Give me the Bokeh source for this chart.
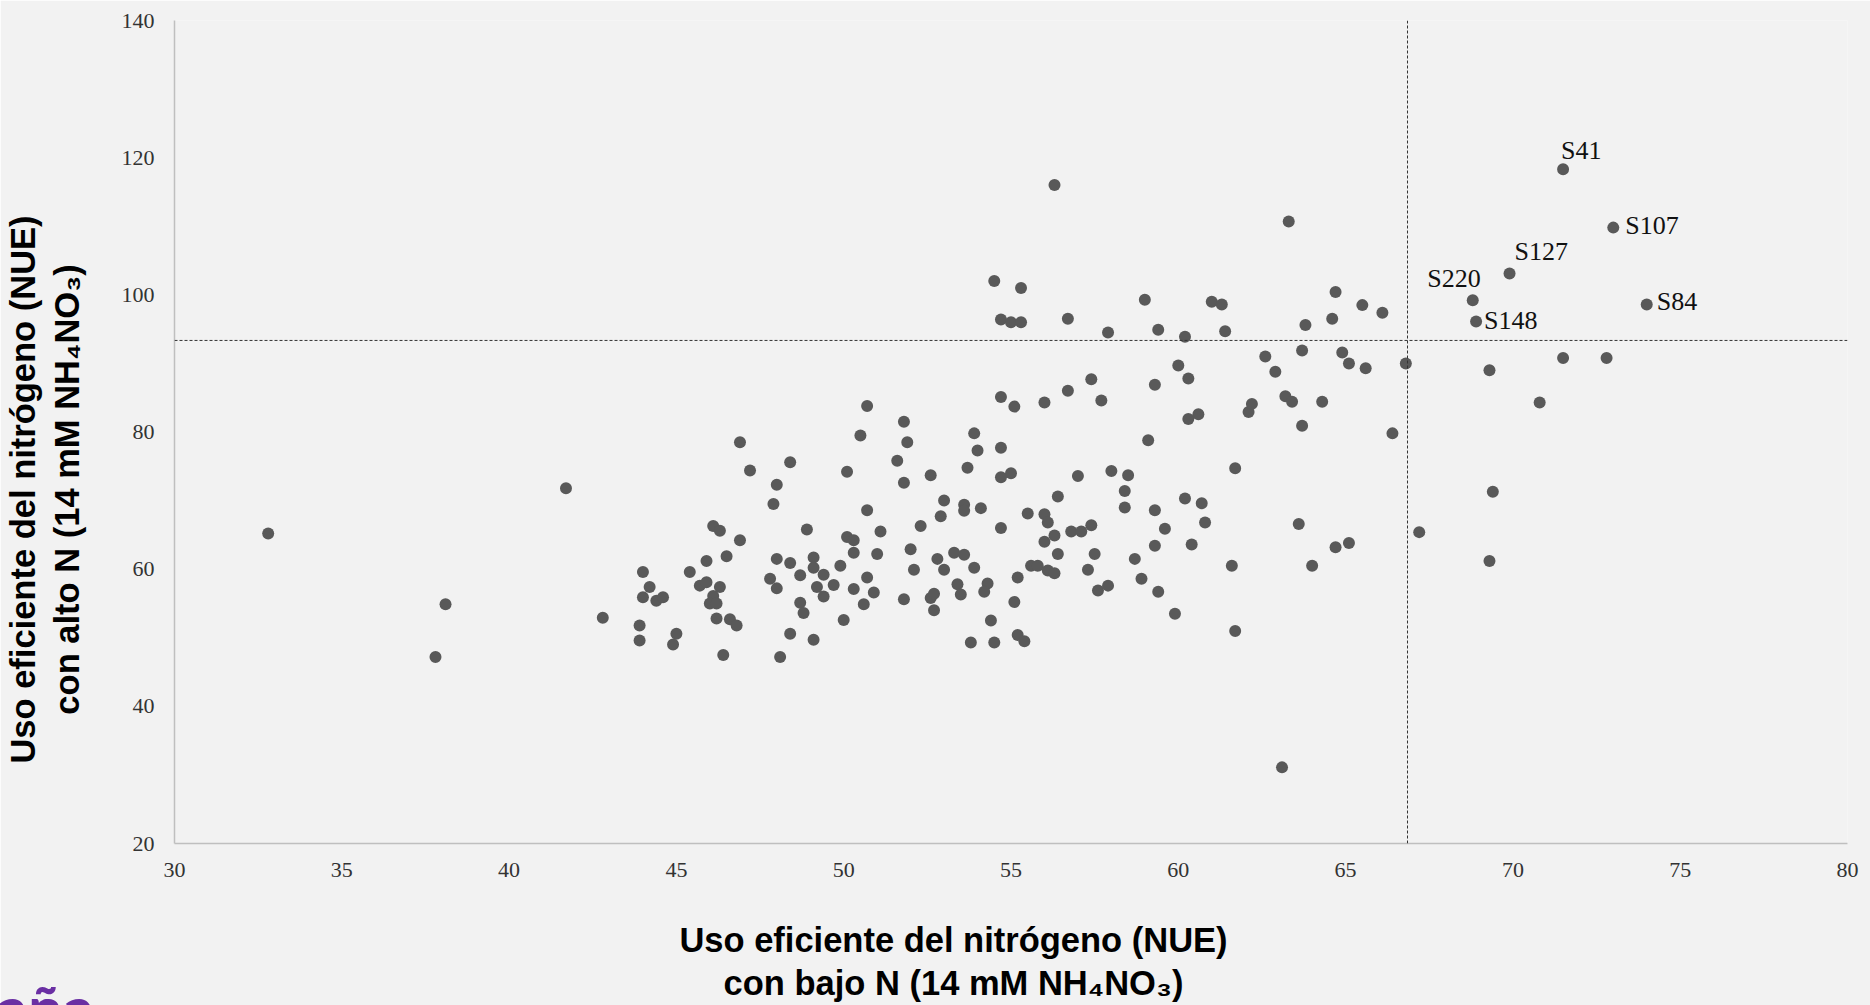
from bokeh.plotting import figure
from bokeh.models import Range1d, FixedTicker, Span, Title
from bokeh.embed import file_html
from bokeh.resources import INLINE
from bokeh.core.properties import value

# ---------------- data ----------------
# NUE under low N (x) and high N (y) for each genotype (unlabelled)
nue_low_n = [
    32.8, 37.8, 38.1, 41.7, 42.8, 44.0, 44.2, 44.0, 43.9, 43.9,
    44.4, 44.6, 45.0, 44.9, 45.4, 45.7, 45.9, 45.9, 46.1, 46.3,
    46.9, 46.5, 46.3, 46.1, 46.0, 46.2, 46.2, 46.6, 46.8, 46.4,
    46.9, 47.2, 48.4, 48.0, 47.9, 48.0, 48.4, 47.8, 48.0, 48.7,
    48.7, 48.8, 48.4, 49.1, 48.1, 48.9, 49.1, 49.1, 49.4, 49.2,
    49.7, 49.4, 49.9, 50.0, 50.1, 50.3, 50.3, 51.0, 50.7, 51.1,
    50.7, 50.3, 50.9, 50.6, 50.1, 50.5, 50.7, 51.8, 51.9, 51.6,
    51.8, 52.6, 52.0, 52.1, 51.8, 52.3, 52.6, 52.7, 52.7, 52.8,
    53.0, 53.0, 52.9, 53.3, 53.6, 53.9, 53.4, 53.5, 53.6, 53.6,
    54.1, 53.9, 54.0, 53.7, 54.3, 54.2, 54.4, 53.8, 54.5, 54.7,
    54.7, 54.7, 54.7, 54.5, 55.3, 54.7, 55.0, 55.3, 56.7, 55.1,
    56.0, 56.7, 56.3, 63.3, 57.9, 59.0, 59.4, 60.2, 61.0, 61.3,
    61.4, 64.7, 64.6, 63.8, 63.7, 64.9, 65.1, 62.6, 62.9, 60.0,
    60.3, 59.3, 57.4, 57.7, 60.3, 60.6, 59.1, 62.1, 62.2, 63.2,
    63.4, 64.3, 63.7, 55.0, 57.0, 58.0, 58.5, 58.4, 58.4, 56.4,
    55.5, 56.0, 56.1, 56.3, 56.0, 56.8, 57.1, 57.4, 56.4, 55.6,
    55.8, 56.1, 56.3, 55.2, 55.1, 55.2, 55.4, 57.5, 57.3, 57.6,
    57.9, 58.7, 58.9, 59.4, 59.9, 59.3, 59.6, 59.3, 60.2, 60.7,
    60.8, 60.4, 61.7, 61.6, 61.7, 63.6, 64.0, 64.7, 65.1, 63.1,
    65.5, 66.1, 65.6, 66.8, 69.3, 71.5, 72.8, 70.8, 66.4, 69.4,
    67.2, 69.3,
]
nue_high_n = [
    65.2, 47.2, 54.9, 71.8, 52.9, 59.6, 57.4, 55.9, 51.8, 49.6,
    55.4, 55.9, 50.6, 49.0, 59.6, 57.6, 58.1, 61.2, 66.3, 65.6,
    64.2, 61.9, 57.4, 56.1, 55.0, 55.0, 52.8, 52.7, 51.8, 47.5,
    78.5, 74.4, 75.6, 72.3, 69.5, 61.5, 60.9, 58.6, 57.2, 59.1,
    55.1, 53.6, 50.6, 49.7, 47.2, 65.8, 61.7, 60.2, 59.2, 57.4,
    57.7, 56.0, 60.5, 52.6, 64.7, 64.2, 62.4, 62.2, 68.6, 65.5,
    58.8, 57.1, 56.6, 54.9, 74.2, 79.5, 83.8, 81.5, 78.5, 75.8,
    72.6, 73.7, 62.9, 59.9, 55.6, 66.3, 55.8, 56.4, 54.0, 61.5,
    59.9, 70.0, 67.7, 62.4, 62.1, 60.2, 57.8, 56.3, 69.4, 68.5,
    68.9, 79.8, 77.3, 74.8, 57.9, 56.7, 52.5, 49.3, 49.3, 85.1,
    77.7, 73.4, 66.0, 102.0, 101.0, 96.4, 96.0, 96.0, 96.5, 83.7,
    84.3, 86.0, 116.0, 110.7, 94.5, 99.3, 94.9, 93.9, 99.0, 98.6,
    94.7, 100.4, 96.5, 95.6, 91.9, 91.6, 90.0, 91.0, 88.8, 89.7,
    87.8, 86.9, 87.7, 84.6, 81.9, 82.6, 78.8, 82.9, 84.1, 85.2,
    84.4, 84.4, 80.9, 74.0, 73.6, 74.3, 73.7, 71.4, 69.0, 70.6,
    68.1, 68.0, 66.8, 64.9, 64.0, 65.5, 65.5, 66.4, 62.2, 60.5,
    60.5, 59.8, 59.4, 58.8, 55.2, 50.4, 49.5, 62.2, 59.9, 56.9,
    57.6, 61.5, 58.6, 56.7, 53.5, 68.6, 65.9, 63.4, 70.3, 69.6,
    66.8, 63.6, 74.7, 60.5, 51.0, 66.6, 60.5, 63.2, 63.8, 31.1,
    98.5, 97.4, 89.3, 90.0, 89.0, 90.8, 90.8, 84.3, 79.8, 71.3,
    65.4, 61.2,
]

# highlighted genotypes
sel_names = ["S41", "S107", "S127", "S220", "S148", "S84"]
sel_low_n = [71.5, 73.0, 69.9, 68.8, 68.9, 74.0]
sel_high_n = [118.3, 109.8, 103.1, 99.2, 96.1, 98.6]

# threshold lines
threshold_low_n = 66.85
threshold_high_n = 93.35

x_ticks = [30, 35, 40, 45, 50, 55, 60, 65, 70, 75, 80]
y_ticks = [20, 40, 60, 80, 100, 120, 140]

x_title_lines = ["Uso eficiente del nitrógeno (NUE)", "con bajo N (14 mM NH₄NO₃)"]
y_title_lines = ["Uso eficiente del nitrógeno (NUE)", "con alto N (14 mM NH₄NO₃)"]
logo_text = "aña"

# ---------------- style ----------------
BG = "#f2f2f2"
DOT = "#595959"
PAD = "\u00a0" * 12   # shifts the centred axis titles off the frame centre
label_style = {  # x_offset, y_offset (screen px), align
    "S41": (-2, -19, "left"),
    "S107": (12, -2, "left"),
    "S127": (5, -22, "left"),
    "S220": (8, -22, "right"),
    "S148": (8, -1, "left"),
    "S84": (10, -3, "left"),
}

p = figure(
    width=1870, height=1005,
    x_range=Range1d(30, 80), y_range=Range1d(20, 140),
    output_backend="svg", toolbar_location=None,
    min_border_left=173, min_border_right=23,
    min_border_top=20, min_border_bottom=162,
    background_fill_color=BG, border_fill_color=BG,
    outline_line_color=None,
)
p.grid.visible = False

for ax in (p.xaxis[0], p.yaxis[0]):
    ax.axis_line_color = "#bfbfbf"
    ax.axis_line_width = 1.5
    ax.major_tick_line_color = None
    ax.minor_tick_line_color = None
    ax.major_tick_out = 0
    ax.major_tick_in = 0
    ax.minor_tick_out = 0
    ax.minor_tick_in = 0
    ax.major_label_text_font = "Liberation Serif"
    ax.major_label_text_font_size = "22px"
    ax.major_label_text_color = "#333333"
    ax.axis_label_text_font = "Liberation Sans"
    ax.axis_label_text_font_size = "34.5px"
    ax.axis_label_text_font_style = "bold"
    ax.axis_label_text_color = "#000000"
    ax.axis_label_text_align = "center"
    ax.axis_label_text_line_height = 1.15

p.xaxis.ticker = FixedTicker(ticks=x_ticks)
p.yaxis.ticker = FixedTicker(ticks=y_ticks)
p.xaxis.major_label_standoff = 19
p.yaxis.major_label_standoff = 20
p.xaxis.axis_label = "\n".join(line + PAD for line in x_title_lines)
p.yaxis.axis_label = "\n".join(line + PAD for line in y_title_lines)
p.xaxis.axis_label_standoff = 41
p.yaxis.axis_label_standoff = 33

p.add_layout(Span(location=threshold_high_n, dimension="width",
                  line_color="#333333", line_width=1, line_dash="3 2"))
p.add_layout(Span(location=threshold_low_n, dimension="height",
                  line_color="#333333", line_width=1, line_dash="3 2"))

p.scatter(nue_low_n, nue_high_n, size=12, fill_color=DOT, line_color=None)
p.scatter(sel_low_n, sel_high_n, size=12, fill_color=DOT, line_color=None)

for name, xv, yv in zip(sel_names, sel_low_n, sel_high_n):
    dx, dy, align = label_style[name]
    p.text(x=[xv], y=[yv], text=[name], x_offset=dx, y_offset=dy,
           text_align=align, text_baseline="alphabetic",
           text_font=value("Liberation Serif"), text_font_size="26px",
           text_color="#111111")

# partial logo text at the bottom-left corner: a zero-height side title
p.add_layout(Title(text=logo_text, align="left", vertical_align="bottom",
                   offset=-178, standoff=-76, text_font="Lato",
                   text_font_size="62px", text_font_style="bold",
                   text_color="#6a2fa3"), "below")

open("out.html", "w").write(file_html(p, INLINE))
